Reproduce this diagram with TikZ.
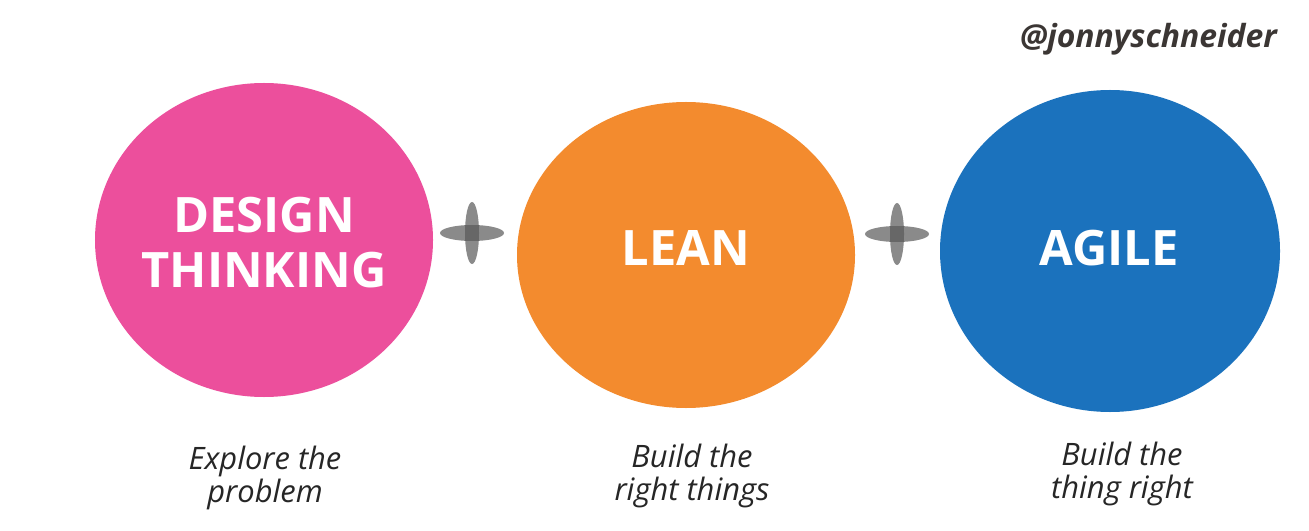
\documentclass[tikz,border=0pt]{standalone}
\usepackage{fontspec}
\setmainfont{Open Sans}
\usetikzlibrary{shapes.geometric}
\definecolor{dtpink}{HTML}{EC4F9C}
\definecolor{leanorange}{HTML}{F38B2E}
\definecolor{agileblue}{HTML}{1B72BD}
\definecolor{handlegray}{HTML}{3B3634}
\definecolor{captiongray}{HTML}{262626}
\begin{document}
\begin{tikzpicture}[x=1bp,y=-1bp,
  blob/.style={ellipse, inner sep=0pt, draw=none},
  bigtxt/.style={text=white, font=\fontsize{49}{55}\selectfont\bfseries, align=center, inner sep=0pt},
  captxt/.style={text=captiongray, font=\fontsize{31}{33}\selectfont\itshape, align=center, inner sep=0pt},
  plusbar/.style={ellipse, fill=black!65, fill opacity=0.7, inner sep=0pt, draw=none}]
\useasboundingbox[fill=white] (0,0) rectangle (1309,531);

% blobs
\node[blob, fill=dtpink, minimum width=338bp, minimum height=314bp] (dt) at (264,240) {};
\node[blob, fill=leanorange, minimum width=338bp, minimum height=306bp] (lean) at (686,255) {};
\node[blob, fill=agileblue, minimum width=340bp, minimum height=322bp] (agile) at (1110,251) {};

% titles (base anchor = baseline of the last line)
\node[bigtxt, anchor=base] (dttxt) at (264,287) {DESIGN\\THINKING};
\node[bigtxt, anchor=base] (leantxt) at (686,265) {LEAN};
\node[bigtxt, anchor=base] (agiletxt) at (1109,265) {AGILE};

% plus signs
\node[plusbar, minimum width=64bp, minimum height=16bp] (p1h) at (472,233) {};
\node[plusbar, minimum width=14bp, minimum height=62bp] (p1v) at (472,233) {};
\node[plusbar, minimum width=64bp, minimum height=16bp] (p2h) at (897,234) {};
\node[plusbar, minimum width=14bp, minimum height=62bp] (p2v) at (897,234) {};

% captions
\node[captxt, anchor=base] (dtcap) at (265,502) {Explore the\\problem};
\node[captxt, anchor=base] (leancap) at (692,500) {Build the\\right things};
\node[captxt, anchor=base] (agilecap) at (1122,498) {Build the\\thing right};

% handle
\node[text=handlegray, font=\fontsize{32}{34}\selectfont\bfseries\itshape, anchor=base east, inner sep=0pt] (handle) at (1277,48) {@jonnyschneider};
\end{tikzpicture}
\end{document}
